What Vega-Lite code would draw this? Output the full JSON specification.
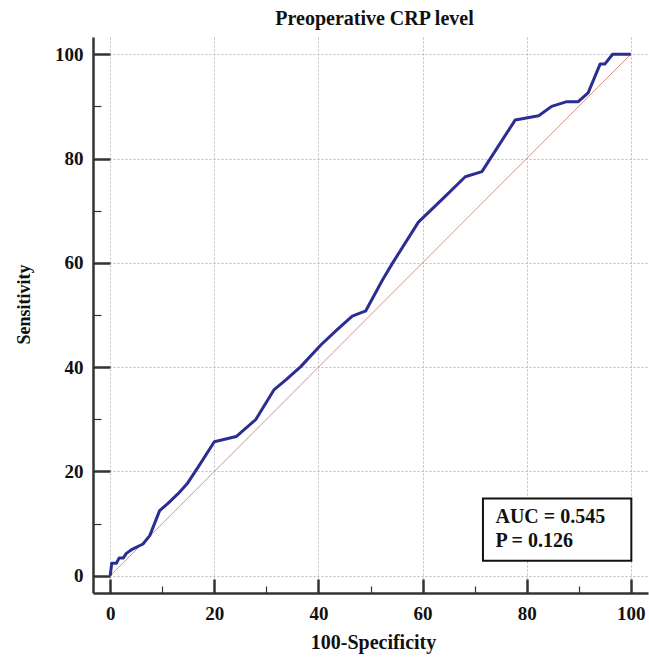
{
  "$schema": "https://vega.github.io/schema/vega-lite/v6.json",
  "autosize": "none",
  "width": 555,
  "height": 556,
  "padding": {"left": 93, "top": 37, "right": 1, "bottom": 65},
  "background": "white",
  "config": {
    "view": {"stroke": null},
    "font": "Liberation Serif"
  },
  "title": {
    "text": "Preoperative CRP level",
    "font": "Liberation Serif",
    "fontSize": 20,
    "fontWeight": "bold",
    "color": "#111111",
    "anchor": "middle",
    "offset": 8,
    "dx": 4
  },
  "datasets": {
    "roc": [
      {"fpr": 0, "sens": 0},
      {"fpr": 0.3, "sens": 2.4},
      {"fpr": 1.2, "sens": 2.4},
      {"fpr": 1.7, "sens": 3.4},
      {"fpr": 2.5, "sens": 3.4},
      {"fpr": 3.1, "sens": 4.3},
      {"fpr": 4.1, "sens": 5.0},
      {"fpr": 6.3, "sens": 6.1},
      {"fpr": 7.6, "sens": 7.7},
      {"fpr": 9.5, "sens": 12.5},
      {"fpr": 11.1, "sens": 13.9},
      {"fpr": 13.0, "sens": 15.7},
      {"fpr": 14.9, "sens": 17.8},
      {"fpr": 17.2, "sens": 21.3},
      {"fpr": 20.0, "sens": 25.7},
      {"fpr": 24.2, "sens": 26.7},
      {"fpr": 28.0, "sens": 30.0},
      {"fpr": 31.5, "sens": 35.7},
      {"fpr": 33.8, "sens": 37.6},
      {"fpr": 36.6, "sens": 40.1},
      {"fpr": 40.5, "sens": 44.3},
      {"fpr": 43.6, "sens": 47.2},
      {"fpr": 46.5, "sens": 49.8},
      {"fpr": 49.1, "sens": 50.8},
      {"fpr": 52.3, "sens": 56.7},
      {"fpr": 54.2, "sens": 59.9},
      {"fpr": 59.2, "sens": 67.8},
      {"fpr": 64.4, "sens": 72.8},
      {"fpr": 68.2, "sens": 76.5},
      {"fpr": 71.4, "sens": 77.5},
      {"fpr": 77.8, "sens": 87.4},
      {"fpr": 82.3, "sens": 88.2},
      {"fpr": 84.8, "sens": 90.0},
      {"fpr": 87.7, "sens": 90.9},
      {"fpr": 89.9, "sens": 90.9},
      {"fpr": 91.8, "sens": 92.6},
      {"fpr": 93.1, "sens": 95.7},
      {"fpr": 94.1, "sens": 98.1},
      {"fpr": 95.0, "sens": 98.1},
      {"fpr": 96.5, "sens": 100},
      {"fpr": 100, "sens": 100}
    ],
    "diag": [
      {"fpr": 0, "sens": 0},
      {"fpr": 100, "sens": 100}
    ]
  },
  "layer": [
    {
      "data": {"name": "diag"},
      "mark": {"type": "line", "color": "#d4938b", "strokeWidth": 1},
      "encoding": {
        "x": {
          "field": "fpr",
          "type": "quantitative",
          "scale": {"domain": [-3.3, 103.3], "nice": false, "zero": false},
          "axis": {
            "title": "100-Specificity",
            "titleFont": "Liberation Serif",
            "titleFontSize": 20,
            "titleFontWeight": "bold",
            "titleColor": "#111111",
            "titleBaseline": "alphabetic",
            "titleY": 55,
            "titleX": 280,
            "values": [0,5,10,15,20,25,30,35,40,45,50,55,60,65,70,75,80,85,90,95,100],
            "labelExpr": "datum.value % 20 === 0 ? datum.label : ''",
            "labelFont": "Liberation Serif",
            "labelFontSize": 19,
            "labelFontWeight": "bold",
            "labelColor": "#111111",
            "labelPadding": 25,
            "labelFlush": false,
            "labelOverlap": false,
            "domainColor": "#333333",
            "domainWidth": 2.5,
            "tickColor": "#333333",
            "tickSize": {"condition": {"test": "datum.value % 20 === 0", "value": -14}, "value": -7},
            "tickWidth": {"condition": {"test": "datum.value % 20 === 0", "value": 2.5}, "value": 1.2},
            "grid": true,
            "gridColor": "#bbbbbb",
            "gridDash": [2, 2],
            "gridWidth": 1,
            "gridOpacity": {"condition": {"test": "datum.value % 20 === 0", "value": 1}, "value": 0}
          }
        },
        "y": {
          "field": "sens",
          "type": "quantitative",
          "scale": {"domain": [-3.3, 103.3], "nice": false, "zero": false},
          "axis": {
            "title": "Sensitivity",
            "titleFont": "Liberation Serif",
            "titleFontSize": 18,
            "titleFontWeight": "bold",
            "titleColor": "#111111",
            "titleBaseline": "alphabetic",
            "titleX": -64,
            "titleY": 267,
            "titleAngle": -90,
            "values": [0,5,10,15,20,25,30,35,40,45,50,55,60,65,70,75,80,85,90,95,100],
            "labelExpr": "datum.value % 20 === 0 ? datum.label : ''",
            "labelFont": "Liberation Serif",
            "labelFontSize": 19,
            "labelFontWeight": "bold",
            "labelColor": "#111111",
            "labelPadding": 27,
            "labelFlush": false,
            "labelOverlap": false,
            "domainColor": "#333333",
            "domainWidth": 2.5,
            "tickColor": "#333333",
            "tickSize": {"condition": {"test": "datum.value % 20 === 0", "value": -17}, "value": -8},
            "tickWidth": {"condition": {"test": "datum.value % 20 === 0", "value": 2.5}, "value": 1.2},
            "grid": true,
            "gridColor": "#bbbbbb",
            "gridDash": [2, 2],
            "gridWidth": 1,
            "gridOpacity": {"condition": {"test": "datum.value % 20 === 0", "value": 1}, "value": 0}
          }
        }
      }
    },
    {
      "data": {"name": "roc"},
      "mark": {"type": "line", "color": "#2b2d92", "strokeWidth": 3, "strokeJoin": "round"},
      "encoding": {
        "x": {"field": "fpr", "type": "quantitative"},
        "y": {"field": "sens", "type": "quantitative"}
      }
    },
    {
      "data": {"values": [{"box": "stats"}]},
      "mark": {"type": "rect", "fill": "white", "stroke": "#111111", "strokeWidth": 2},
      "encoding": {
        "x": {"datum": 71.6, "type": "quantitative"},
        "x2": {"datum": 100.1},
        "y": {"datum": 14.8, "type": "quantitative"},
        "y2": {"datum": 2.9}
      }
    },
    {
      "data": {"values": [{"line": "AUC = 0.545"}]},
      "mark": {"type": "text", "font": "Liberation Serif", "fontSize": 20, "fontWeight": "bold", "color": "#111111", "align": "left", "baseline": "alphabetic"},
      "encoding": {
        "text": {"field": "line"},
        "x": {"datum": 74.0, "type": "quantitative"},
        "y": {"datum": 10.2, "type": "quantitative"}
      }
    },
    {
      "data": {"values": [{"line": "P = 0.126"}]},
      "mark": {"type": "text", "font": "Liberation Serif", "fontSize": 20, "fontWeight": "bold", "color": "#111111", "align": "left", "baseline": "alphabetic"},
      "encoding": {
        "text": {"field": "line"},
        "x": {"datum": 74.0, "type": "quantitative"},
        "y": {"datum": 5.6, "type": "quantitative"}
      }
    }
  ]
}
